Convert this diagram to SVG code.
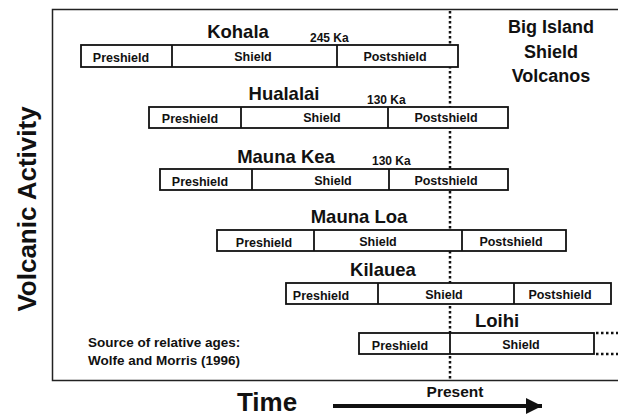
<svg xmlns="http://www.w3.org/2000/svg" width="618" height="418" viewBox="0 0 618 418">
<style>
text{font-family:"Liberation Sans",Arial,sans-serif;font-weight:bold;fill:#111}
.bar{fill:#fff;stroke:#111;stroke-width:1.8}
.div{stroke:#111;stroke-width:1.8}
.lbl{font-size:12.5px;text-anchor:middle}
.ttl{font-size:18.5px;text-anchor:middle}
.ka{font-size:12px}
.dot{stroke:#111;stroke-width:2.5;stroke-dasharray:2.5 2.5;fill:none}
</style>
<defs>
<marker id="ah" viewBox="0 0 10 10" refX="10" refY="5" markerWidth="4" markerHeight="4.2" orient="auto" markerUnits="strokeWidth">
<path d="M0 0L10 5L0 10Z" fill="#111"/>
</marker>
</defs>
<rect width="618" height="418" fill="#fff"/>
<g id="frame">
<path d="M618 9.5H52.5V380.5H618" fill="none" stroke="#222" stroke-width="1.5"/>
</g>
<g id="connectors">
<line class="dot" x1="450" y1="11" x2="450" y2="380"/>
<line x1="333" y1="406" x2="542" y2="406" stroke="#111" stroke-width="4" marker-end="url(#ah)"/>
<line class="dot" x1="596" y1="333" x2="618" y2="333" stroke-width="1.5" stroke-dasharray="2 1.5"/>
<line class="dot" x1="596" y1="354" x2="618" y2="354" stroke-width="1.5" stroke-dasharray="2 1.5"/>
</g>
<g id="kohala">
<text class="ttl" x="238" y="38">Kohala</text>
<text class="ka" x="310" y="42">245 Ka</text>
<rect class="bar" x="81" y="45" width="377" height="22"/>
<line class="div" x1="172" y1="45" x2="172" y2="67"/>
<line class="div" x1="337" y1="45" x2="337" y2="67"/>
<text class="lbl" x="121" y="62">Preshield</text>
<text class="lbl" x="253" y="61">Shield</text>
<text class="lbl" x="395" y="61">Postshield</text>
</g>
<g id="hualalai">
<text class="ttl" x="284" y="100">Hualalai</text>
<text class="ka" x="367" y="104">130 Ka</text>
<rect class="bar" x="149" y="107" width="359" height="21"/>
<line class="div" x1="241" y1="107" x2="241" y2="128"/>
<line class="div" x1="388" y1="107" x2="388" y2="128"/>
<text class="lbl" x="190" y="123">Preshield</text>
<text class="lbl" x="322" y="122">Shield</text>
<text class="lbl" x="446" y="122">Postshield</text>
</g>
<g id="maunakea">
<text class="ttl" x="286" y="163">Mauna Kea</text>
<text class="ka" x="372" y="165">130 Ka</text>
<rect class="bar" x="160" y="169" width="348" height="21"/>
<line class="div" x1="252" y1="169" x2="252" y2="190"/>
<line class="div" x1="389" y1="169" x2="389" y2="190"/>
<text class="lbl" x="200" y="186">Preshield</text>
<text class="lbl" x="333" y="185">Shield</text>
<text class="lbl" x="446" y="185">Postshield</text>
</g>
<g id="maunaloa">
<text class="ttl" x="359" y="223">Mauna Loa</text>
<rect class="bar" x="217" y="230" width="349" height="21"/>
<line class="div" x1="314" y1="230" x2="314" y2="251"/>
<line class="div" x1="462" y1="230" x2="462" y2="251"/>
<text class="lbl" x="264" y="247">Preshield</text>
<text class="lbl" x="378" y="246">Shield</text>
<text class="lbl" x="511" y="246">Postshield</text>
</g>
<g id="kilauea">
<text class="ttl" x="383" y="276">Kilauea</text>
<rect class="bar" x="286" y="283" width="325" height="21"/>
<line class="div" x1="378" y1="283" x2="378" y2="304"/>
<line class="div" x1="514" y1="283" x2="514" y2="304"/>
<text class="lbl" x="321" y="300">Preshield</text>
<text class="lbl" x="444" y="299">Shield</text>
<text class="lbl" x="560" y="299">Postshield</text>
</g>
<g id="loihi">
<text class="ttl" x="497" y="327">Loihi</text>
<rect class="bar" x="359" y="333" width="235" height="21"/>
<line class="div" x1="450" y1="333" x2="450" y2="354"/>
<text class="lbl" x="400" y="350">Preshield</text>
<text class="lbl" x="521" y="349">Shield</text>
</g>
<g id="title">
<text x="551" y="33" font-size="18" text-anchor="middle">Big Island</text>
<text x="551" y="58" font-size="18" text-anchor="middle">Shield</text>
<text x="551" y="82" font-size="18" text-anchor="middle">Volcanos</text>
</g>
<g id="source">
<text x="88" y="347" font-size="13.5">Source of relative ages:</text>
<text x="88" y="365" font-size="13.5">Wolfe and Morris (1996)</text>
</g>
<g id="axes">
<text x="455" y="397" font-size="15.5" text-anchor="middle">Present</text>
<text x="267" y="411" font-size="26" text-anchor="middle">Time</text>
<text transform="translate(36 209) rotate(-90)" font-size="26" text-anchor="middle">Volcanic Activity</text>
</g>
</svg>
